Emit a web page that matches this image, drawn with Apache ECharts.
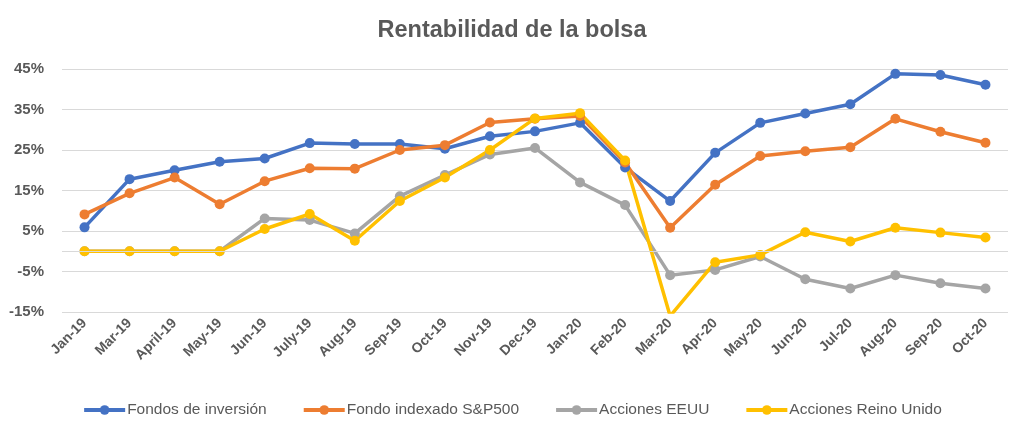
<!DOCTYPE html>
<html>
<head>
<meta charset="utf-8">
<script src="https://cdn.jsdelivr.net/npm/echarts@6/dist/echarts.min.js"></script>
<style>
html,body{margin:0;padding:0;background:#fff;}
#chart{width:1024px;height:429px;}
</style>
</head>
<body>
<div id="chart"></div>
<script>
var categories = ['Jan-19','Mar-19','April-19','May-19','Jun-19','July-19','Aug-19','Sep-19','Oct-19','Nov-19','Dec-19','Jan-20','Feb-20','Mar-20','Apr-20','May-20','Jun-20','Jul-20','Aug-20','Sep-20','Oct-20'];
var fondosInversion = [5.9,17.8,20.0,22.1,22.9,26.7,26.5,26.5,25.3,28.4,29.6,31.7,20.7,12.4,24.3,31.7,34.0,36.3,43.8,43.5,41.1];
var fondoSP500 = [9.1,14.3,18.2,11.6,17.3,20.5,20.4,25.0,26.2,31.8,32.7,33.4,21.9,5.8,16.4,23.5,24.7,25.7,32.7,29.5,26.8];
var accionesEEUU = [0,0,0,0,8.1,7.7,4.4,13.6,18.8,23.9,25.5,17.0,11.4,-5.9,-4.6,-1.3,-6.9,-9.2,-5.9,-7.9,-9.2];
var accionesReinoUnido = [0,0,0,0,5.5,9.2,2.6,12.4,18.2,25.0,32.8,34.1,22.4,-16,-2.7,-0.9,4.7,2.4,5.8,4.6,3.4];
var yTicks = {min:-15, max:45, step:10};

var textColor = '#595959';
var font = 'Liberation Sans, Arial, sans-serif';

function mkSeries(name, data, color, extra) {
  var s = {
    name: name, type: 'line', data: data,
    symbol: 'circle', symbolSize: 10,
    lineStyle: {width: 3.5, color: color},
    itemStyle: {color: color},
    clip: true,
    animation: false
  };
  if (extra) for (var k in extra) s[k] = extra[k];
  return s;
}

var chart = echarts.init(document.getElementById('chart'), null, {renderer:'canvas'});
chart.setOption({
  animation: false,
  title: {
    text: 'Rentabilidad de la bolsa', left: 'center', top: 14,
    textStyle: {color: textColor, fontSize: 23.5, fontWeight: 'bold', fontFamily: font}
  },
  legend: {
    top: 397, left: 'center', itemWidth: 41, itemHeight: 12, itemGap: 35,
    lineStyle: {width: 4},
    textStyle: {color: textColor, fontSize: 15.5, fontFamily: font, padding: [0,0,0,-3]},
    data: ['Fondos de inversión','Fondo indexado S&P500','Acciones EEUU','Acciones Reino Unido']
  },
  grid: {left: 62, right: 16, top: 69, bottom: 117, containLabel: false},
  xAxis: {
    type: 'category', data: categories, boundaryGap: true,
    axisLine: {show: false}, axisTick: {show: false},
    axisLabel: {rotate: 45, interval: 0, margin: 9, color: textColor, fontSize: 14, fontWeight: 'bold', fontFamily: font}
  },
  yAxis: {
    type: 'value', min: yTicks.min, max: yTicks.max, interval: yTicks.step,
    axisLine: {show: false}, axisTick: {show: false},
    splitLine: {lineStyle: {color: '#D9D9D9', width: 1}},
    axisLabel: {margin: 18, color: textColor, fontSize: 15, fontWeight: 'bold', fontFamily: font,
      formatter: function(v){ return v + '%'; }}
  },
  series: [
    mkSeries('Fondos de inversión', fondosInversion, '#4472C4', {
      markLine: {silent: true, symbol: 'none', label: {show: false},
        lineStyle: {color: '#D9D9D9', width: 1, type: 'solid'}, data: [{yAxis: 0}]}
    }),
    mkSeries('Fondo indexado S&P500', fondoSP500, '#ED7D31'),
    mkSeries('Acciones EEUU', accionesEEUU, '#A5A5A5'),
    mkSeries('Acciones Reino Unido', accionesReinoUnido, '#FFC000')
  ]
});
</script>
</body>
</html>
